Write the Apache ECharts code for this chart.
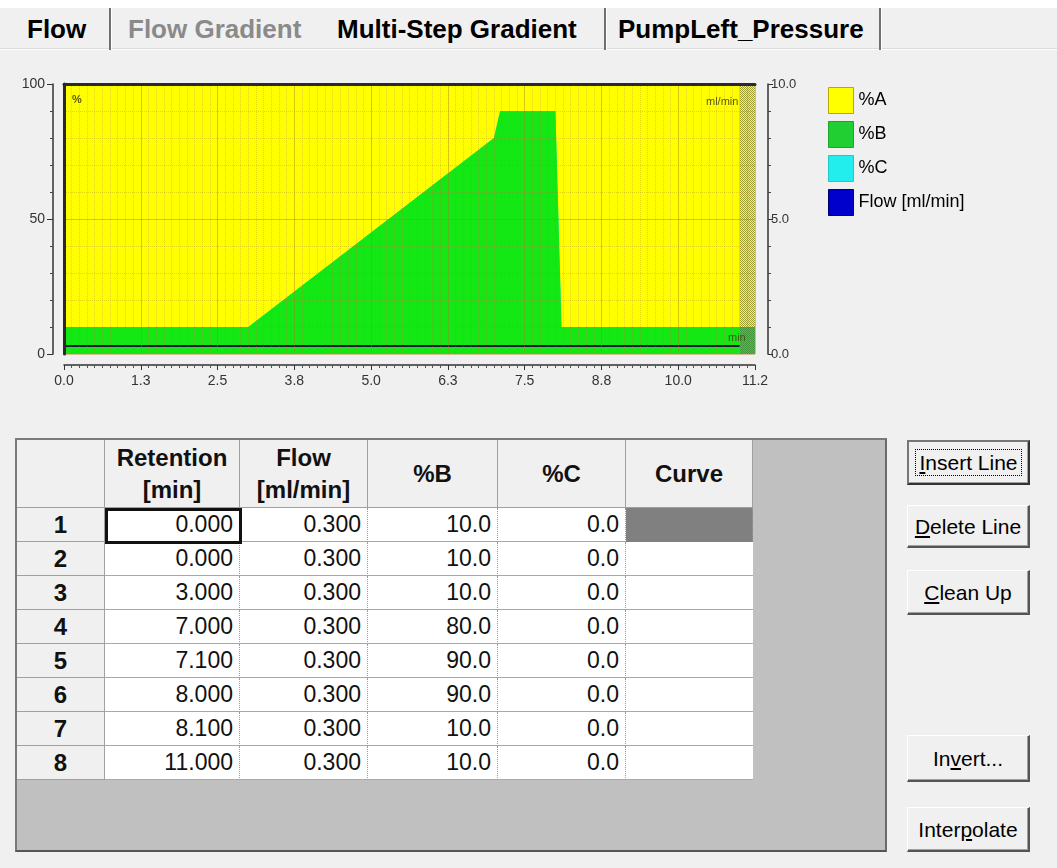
<!DOCTYPE html>
<html><head><meta charset="utf-8">
<script src="https://cdn.jsdelivr.net/npm/echarts/dist/echarts.min.js"></script>
<style>
html,body{margin:0;padding:0;width:1057px;height:868px;overflow:hidden;background:#f0f0f0;font-family:"Liberation Sans",Arial,sans-serif;}
#topstrip{position:absolute;left:0;top:0;width:1057px;height:8px;background:#fff;}
#tabline{position:absolute;left:0;top:48px;width:1057px;height:1px;background:#dcdcdc;border-bottom:1px solid #fff;}
.tab{position:absolute;top:16px;font:bold 26px/26px "Liberation Sans",Arial,sans-serif;color:#000;white-space:nowrap;}
.sep{position:absolute;top:8px;width:2px;height:42px;background:#707070;border-right:1px solid #fff;}
#chart{position:absolute;left:0;top:0;width:1057px;height:420px;}
.c{position:absolute;box-sizing:border-box;display:flex;align-items:center;white-space:nowrap;}
.hdr{background:#f0f0f0;border-right:1px solid #a0a0a0;border-bottom:1px solid #a0a0a0;justify-content:center;text-align:center;font:bold 24px/32px "Liberation Sans",Arial,sans-serif;color:#111;}
.rh{background:#f0f0f0;border-right:1px solid #a0a0a0;border-bottom:1px solid #a0a0a0;justify-content:center;font:bold 24px/24px "Liberation Sans",Arial,sans-serif;color:#111;}
.dc{background:#fff;border-right:1px dotted #9a9a9a;border-bottom:1px solid #a8a8a8;justify-content:flex-end;padding-right:6px;font:23px/23px "Liberation Sans",Arial,sans-serif;color:#111;}
.btn{position:absolute;left:907px;width:123px;box-sizing:border-box;background:#f0f0f0;border-top:1px solid #fff;border-left:1px solid #fff;border-right:2px solid #555;border-bottom:2px solid #555;box-shadow:inset -1px -1px 0 #a0a0a0;display:flex;align-items:center;justify-content:center;font:21px/21px "Liberation Sans",Arial,sans-serif;color:#000;white-space:nowrap;}
.btn.def{border:2px solid #333;border-top-color:#777;border-left-color:#777;}
.focus{outline:1px dotted #000;padding:2px 3px;}
</style>
</head><body>
<div id="topstrip"></div>
<div id="tabline"></div>
<div id="tabs"></div>
<div id="chart"></div>
<div id="table"></div>
<div id="buttons"></div>
<script>
// ---------- data ----------
const retention = [0.000, 0.000, 3.000, 7.000, 7.100, 8.000, 8.100, 11.000];
const flowRate  = [0.300, 0.300, 0.300, 0.300, 0.300, 0.300, 0.300, 0.300];
const pctB      = [10.0, 10.0, 10.0, 80.0, 90.0, 90.0, 10.0, 10.0];
const pctC      = [0.0, 0.0, 0.0, 0.0, 0.0, 0.0, 0.0, 0.0];
const xTickLabels = ['0.0','1.3','2.5','3.8','5.0','6.3','7.5','8.8','10.0','11.2'];
const xMax = 11.25, xStep = 1.25;
const tabNames = ['Flow', 'Flow Gradient', 'Multi-Step Gradient', 'PumpLeft_Pressure'];
const columnHeaders = ['', 'Retention<br>[min]', 'Flow<br>[ml/min]', '%B', '%C', 'Curve'];
const buttonLabels = ['<u>I</u>nsert Line', '<u>D</u>elete Line', '<u>C</u>lean Up', 'In<u>v</u>ert...', 'Inter<u>p</u>olate'];
const legendNames = ['%A', '%B', '%C', 'Flow [ml/min]'];

// ---------- tabs ----------
(function(){
  const t = document.getElementById('tabs');
  const lefts = [27, 128, 337, 618];
  const colors = ['#000', '#8a8a8a', '#000', '#000'];
  tabNames.forEach((n,i)=>{
    const d=document.createElement('div'); d.className='tab'; d.style.left=lefts[i]+'px'; d.style.color=colors[i]; d.textContent=n; t.appendChild(d);
  });
  [109, 604, 879].forEach(x=>{const s=document.createElement('div'); s.className='sep'; s.style.left=x+'px'; t.appendChild(s);});
})();

// ---------- chart ----------
const green = '#14e814', yellow = '#ffff00', cyan = '#22eeee', flowCol = '#151535';
const aValues = pctB.map((b,i)=>100-b-pctC[i]);
// manual stacking (B at the bottom, then C, then A on top)
const topB = pctB.slice();
const topC = pctB.map((b,i)=>b+pctC[i]);
const topA = topC.map((v,i)=>v+aValues[i]);
const lastT = retention[retention.length-1];
const lastI = retention.length-1;

const pc = document.createElement('canvas'); pc.width=2; pc.height=2;
const pctx = pc.getContext('2d');
pctx.fillStyle='rgba(95,95,85,0.6)'; pctx.fillRect(0,0,1,1); pctx.fillRect(1,1,1,1);

const gridLine = 'rgba(170,125,40,0.45)';
const minorGrid = 'rgba(170,125,40,0.30)';
const chart = echarts.init(document.getElementById('chart'));
chart.setOption({
  animation:false,
  textStyle:{fontFamily:'Liberation Sans'},
  grid:{left:64, top:84, width:691, height:270, containLabel:false},
  legend:{orient:'vertical', left:823, top:82, itemWidth:25, itemHeight:26, itemGap:7, icon:'rect', selectedMode:false,
    textStyle:{fontSize:18, color:'#000', fontFamily:'Liberation Sans'},
    data:[
      {name:legendNames[0], itemStyle:{color:yellow, borderColor:'#b8a800', borderWidth:1}},
      {name:legendNames[1], itemStyle:{color:'#22cf33', borderColor:'#1aa52a', borderWidth:1}},
      {name:legendNames[2], itemStyle:{color:cyan, borderColor:'#20c8c8', borderWidth:1}},
      {name:legendNames[3], itemStyle:{color:'#0000cc', borderColor:'#000070', borderWidth:1}}
    ]},
  xAxis:[
    {type:'value', min:0, max:xMax, interval:xStep, position:'bottom', offset:11, z:5,
     axisLine:{show:true, onZero:false, lineStyle:{color:'#333', width:1.5}},
     axisTick:{show:true, length:5, lineStyle:{color:'#333'}},
     minorTick:{show:true, splitNumber:10, length:3, lineStyle:{color:'#555'}},
     axisLabel:{fontSize:14, color:'#333', margin:9, formatter:(v)=>xTickLabels[Math.round(v/xStep)]},
     splitLine:{show:true, lineStyle:{color:gridLine, width:1}},
     minorSplitLine:{show:true, lineStyle:{color:minorGrid, type:'dotted', width:1}}},
    {type:'value', min:0, max:xMax, position:'top', offset:0, z:6,
     axisLine:{show:true, onZero:false, lineStyle:{color:'#2a2a2a', width:3}},
     axisTick:{show:false}, axisLabel:{show:false}, splitLine:{show:false}}
  ],
  yAxis:[
    {type:'value', min:0, max:100, interval:50, position:'left', offset:11, z:5,
     axisLine:{show:true, onZero:false, lineStyle:{color:'#333', width:1.5}},
     axisTick:{show:true, length:6, lineStyle:{color:'#333'}},
     minorTick:{show:true, splitNumber:5, length:3, lineStyle:{color:'#444'}},
     axisLabel:{fontSize:14, color:'#333', margin:8},
     splitLine:{show:true, lineStyle:{color:gridLine, width:1}},
     minorSplitLine:{show:true, lineStyle:{color:minorGrid, type:'dotted', width:1}}},
    {type:'value', min:0, max:10, interval:5, position:'right', offset:13, z:5,
     axisLine:{show:true, onZero:false, lineStyle:{color:'#333', width:1.5}},
     axisTick:{show:true, length:5, lineStyle:{color:'#333'}},
     minorTick:{show:true, splitNumber:5, length:3, lineStyle:{color:'#444'}},
     axisLabel:{fontSize:13, color:'#333', margin:3, formatter:(v)=>v.toFixed(1)},
     splitLine:{show:false}},
    {type:'value', min:0, max:100, position:'left', offset:0, z:6,
     axisLine:{show:true, onZero:false, lineStyle:{color:'#2a2a2a', width:3}},
     axisTick:{show:false}, axisLabel:{show:false}, splitLine:{show:false}}
  ],
  graphic:[
    {type:'text', left:72, top:94, z:10, style:{text:'%', font:'bold 11px "Liberation Sans"', fill:'#5a5a10'}},
    {type:'text', left:706, top:96, z:10, style:{text:'ml/min', font:'11px "Liberation Sans"', fill:'#5a5a10'}},
    {type:'text', left:728, top:332, z:10, style:{text:'min', font:'11px "Liberation Sans"', fill:'#3a5a10'}}
  ],
  series:[
    {name:legendNames[0], type:'line', xAxisIndex:0, yAxisIndex:0, symbol:'none', showSymbol:false, z:1,
     data:retention.map((t,i)=>[t,topA[i]]),
     lineStyle:{width:0, color:yellow}, itemStyle:{color:yellow}, areaStyle:{color:yellow, opacity:1, origin:'start'},
     markArea:{silent:true, z:1, itemStyle:{color:yellow, opacity:1, borderWidth:0}, label:{show:false},
       data:[[{coord:[lastT,0]},{coord:[xMax,topA[lastI]]}]]}},
    {name:legendNames[2], type:'line', xAxisIndex:0, yAxisIndex:0, symbol:'none', showSymbol:false, z:2,
     data:retention.map((t,i)=>[t,topC[i]]),
     lineStyle:{width:0, color:cyan}, itemStyle:{color:cyan}, areaStyle:{color:cyan, opacity:1, origin:'start'}},
    {name:legendNames[1], type:'line', xAxisIndex:0, yAxisIndex:0, symbol:'none', showSymbol:false, z:3,
     data:retention.map((t,i)=>[t,topB[i]]),
     lineStyle:{width:0, color:green}, itemStyle:{color:green}, areaStyle:{color:green, opacity:1, origin:'start'},
     markArea:{silent:true, z:3, itemStyle:{color:green, opacity:1, borderWidth:0}, label:{show:false},
       data:[[{coord:[lastT,0]},{coord:[xMax,topB[lastI]]}]]}},
    {name:legendNames[3], type:'line', xAxisIndex:0, yAxisIndex:1, symbol:'none', showSymbol:false, z:4,
     data:retention.map((t,i)=>[t,flowRate[i]]),
     lineStyle:{width:2, color:flowCol}, itemStyle:{color:'#0000cc'},
     markArea:{silent:true, z:4, itemStyle:{color:{image:pc, repeat:'repeat'}, opacity:1, borderWidth:0}, label:{show:false},
       data:[[{coord:[lastT,0]},{coord:[xMax,10]}]]}}
  ]
});

// ---------- table ----------
(function(){
  const T = document.getElementById('table');
  const colX = [17,105,240,368,498,626,753];
  const top = 440, hdrH = 68, rowH = 34, right = 885, bottom = 850;
  function add(cls, l, t, w, h, html, extra){
    const d=document.createElement('div'); d.className='c '+cls;
    d.style.left=l+'px'; d.style.top=t+'px'; d.style.width=w+'px'; d.style.height=h+'px';
    if(html!==undefined) d.innerHTML=html; if(extra) Object.assign(d.style, extra); T.appendChild(d); return d;
  }
  add('', 15, 438, right-15+2, bottom-438+2, '', {background:'#c0c0c0', borderLeft:'2px solid #7a7a7a', borderTop:'2px solid #7a7a7a', borderRight:'2px solid #6a6a6a', borderBottom:'2px solid #555'});
  for(let i=0;i<6;i++) add('hdr', colX[i], top, colX[i+1]-colX[i], hdrH, columnHeaders[i]);
  for(let r=0;r<retention.length;r++){
    const y = top+hdrH+r*rowH;
    add('rh', colX[0], y, colX[1]-colX[0], rowH, String(r+1));
    const vals = [retention[r].toFixed(3), flowRate[r].toFixed(3), pctB[r].toFixed(1), pctC[r].toFixed(1)];
    for(let k=0;k<4;k++) add('dc', colX[k+1], y, colX[k+2]-colX[k+1], rowH, vals[k]);
    add('dc', colX[5], y, colX[6]-colX[5], rowH, '', r===0?{background:'#808080', borderBottomColor:'#808080'}:{borderRight:'none'});
  }
  add('', colX[1], top+hdrH, colX[2]-colX[1]+2, rowH+2, '', {border:'3px solid #111', background:'transparent'});
})();

// ---------- buttons ----------
(function(){
  const B = document.getElementById('buttons');
  const tops = [440, 505, 570, 735, 807], hs = [45, 43, 45, 47, 45];
  buttonLabels.forEach((l,i)=>{
    const d=document.createElement('div'); d.className='btn'+(i===0?' def':'');
    d.style.top=tops[i]+'px'; d.style.height=hs[i]+'px';
    d.innerHTML = i===0 ? '<span class="focus">'+l+'</span>' : l;
    B.appendChild(d);
  });
})();
</script>
</body></html>
